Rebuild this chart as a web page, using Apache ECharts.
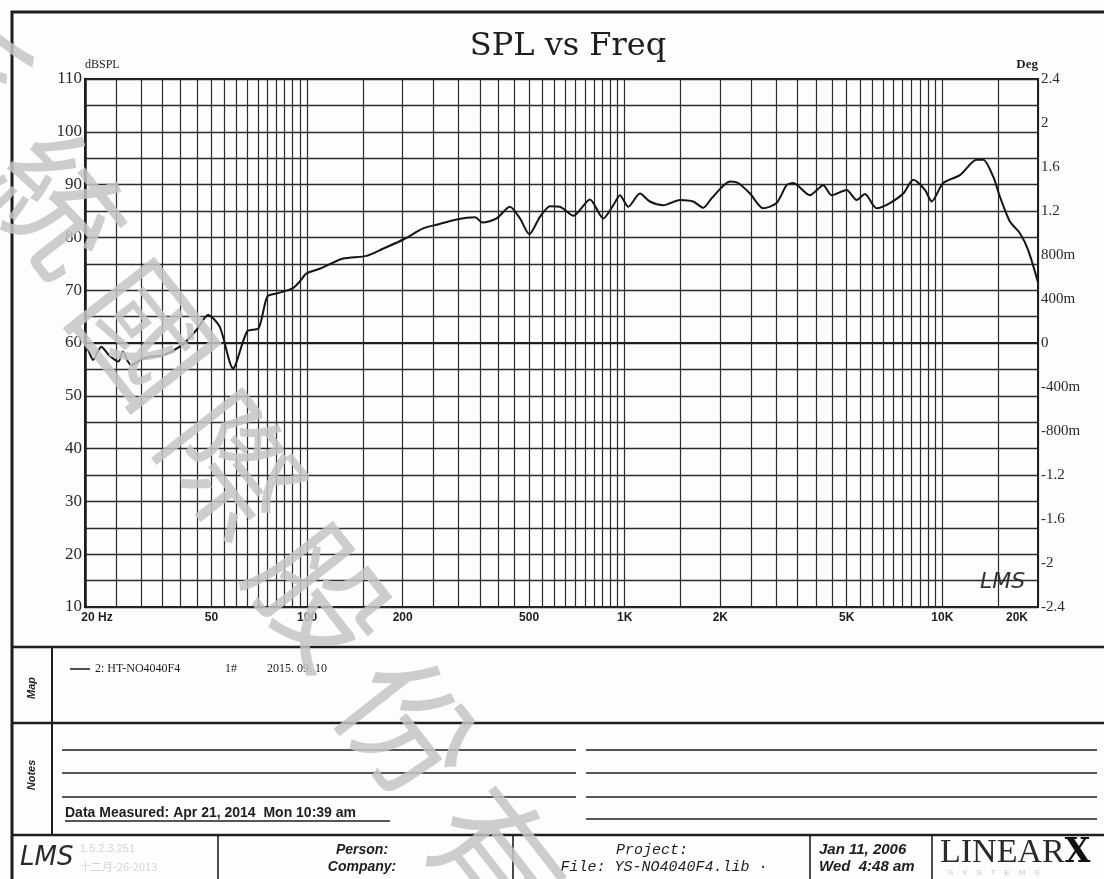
<!DOCTYPE html>
<html>
<head>
<meta charset="utf-8">
<title>SPL vs Freq</title>
<script src="https://cdn.jsdelivr.net/npm/echarts@6/dist/echarts.min.js"></script>
<style>
  html, body { margin: 0; padding: 0; background: #fff; }
  #main { width: 1104px; height: 879px; }
</style>
</head>
<body>
<div id="main"></div>
<script>
// frequency (Hz) and level (dB SPL)
var freq = [20, 20.3, 21.2, 22.5, 23.8, 25.5, 26.3, 27.3, 28, 29.9,
  32, 35.3, 40.4, 44.9, 48.8, 53.1, 58.5, 64.8, 70.4, 75,
  80.6, 90.3, 95, 99.7, 110, 130, 154, 174, 201, 232,
  256, 296, 338, 357, 395, 435, 468, 501, 541, 582,
  625, 689, 777, 856, 921, 966, 1026, 1117, 1200, 1322,
  1493, 1643, 1767, 1878, 2144, 2276, 2480, 2729, 3008, 3234,
  3392, 3828, 4217, 4480, 4996, 5370, 5704, 6210, 6838, 7530,
  8096, 8812, 9252, 10060, 11356, 12818, 13446, 14456, 15176, 16312,
  17540, 18624, 20000];
var spl = [58.2, 58.9, 56.8, 59.3, 57.7, 56.5, 58.4, 56.5, 55.8, 56.8,
  57.4, 57.7, 59.6, 62.5, 65.3, 63.1, 55.2, 62.2, 62.8, 68.8,
  69.4, 70.4, 71.7, 73.2, 74.1, 76.0, 76.5, 77.9, 79.6, 81.7,
  82.4, 83.4, 83.8, 82.8, 83.6, 85.8, 83.6, 80.6, 83.9, 85.9,
  85.8, 84.1, 87.2, 83.6, 86.1, 88.0, 85.8, 88.3, 86.8, 86.1,
  87.1, 86.8, 85.6, 87.4, 90.6, 90.3, 88.3, 85.5, 86.5, 89.9,
  90.3, 88.0, 89.9, 88.0, 89.0, 87.1, 88.2, 85.5, 86.5, 88.3,
  90.9, 89.0, 86.8, 90.3, 91.8, 94.7, 94.7, 91.5, 87.7, 83.0,
  80.8, 77.6, 71.5];

// vertical grid lines of the chart paper
var gridFreqs = [20, 25, 30, 35, 40, 45, 50, 55, 60, 65, 70, 75, 80, 85, 90, 95, 100,
  150, 200, 250, 300, 350, 400, 450, 500, 550, 600, 650, 700, 750, 800, 850, 900, 950, 1000,
  1500, 2000, 2500, 3000, 3500, 4000, 4500, 5000, 5500, 6000, 6500, 7000, 7500, 8000, 8500,
  9000, 9500, 10000, 15000, 20000];
var labelFreqs = [20, 50, 100, 200, 500, 1000, 2000, 5000, 10000, 20000];
var freqLabels = ['20 Hz', '50', '100', '200', '500', '1K', '2K', '5K', '10K', '20K'];
var degLabels = ['-2.4', '-2', '-1.6', '-1.2', '-800m', '-400m', '0', '400m', '800m', '1.2', '1.6', '2', '2.4'];

var seriesName = '2: HT-NO4040F4';
var sampleNo = '1#';
var measDate = '2015. 09. 10';

var ink = '#1e1e1e';
var data = freq.map(function (f, i) { return [f, spl[i]]; });

var chart = echarts.init(document.getElementById('main'));

function txt(x, y, text, font, extra) {
  var st = { text: text, font: font, fill: ink, align: 'left', verticalAlign: 'middle' };
  for (var k in (extra || {})) st[k] = extra[k];
  return { type: 'text', x: x, y: y, silent: true, style: st };
}
function ln(x1, y1, x2, y2, w) {
  return { type: 'line', silent: true, shape: { x1: x1, y1: y1, x2: x2, y2: y2 },
    style: { stroke: ink, lineWidth: w || 2 } };
}

var graphics = [
  { type: 'rect', silent: true, shape: { x: 12, y: 12, width: 1120, height: 900 },
    style: { fill: 'none', stroke: ink, lineWidth: 3 } },
  ln(12, 647, 1104, 647, 2.5),
  ln(12, 723, 1104, 723, 2.5),
  ln(12, 835, 1104, 835, 2.5),
  ln(52, 647, 52, 835, 2),
  // notes lines
  ln(62, 750, 576, 750, 1.6), ln(586, 750, 1097, 750, 1.6),
  ln(62, 773, 576, 773, 1.6), ln(586, 773, 1097, 773, 1.6),
  ln(62, 797, 576, 797, 1.6), ln(586, 797, 1097, 797, 1.6),
  ln(586, 819, 1097, 819, 1.6),
  ln(65, 821, 390, 821, 1.4),
  // title block dividers
  ln(218, 835, 218, 879, 1.6),
  ln(513, 835, 513, 879, 1.6),
  ln(810, 835, 810, 879, 1.6),
  ln(932, 835, 932, 879, 1.6),
  { type: 'text', x: 32, y: 688, rotation: Math.PI / 2, silent: true,
    style: { text: 'Map', font: 'italic bold 11px "Liberation Sans"', fill: ink, align: 'center', verticalAlign: 'middle' } },
  { type: 'text', x: 32, y: 775, rotation: Math.PI / 2, silent: true,
    style: { text: 'Notes', font: 'italic bold 11px "Liberation Sans"', fill: ink, align: 'center', verticalAlign: 'middle' } },
  txt(65, 813, 'Data Measured: Apr 21, 2014  Mon 10:39 am', 'bold 14px "Liberation Sans"'),
  txt(20, 858, 'LMS', 'italic 26px "DejaVu Sans"', { fill: '#2a2a2a' }),
  txt(80, 849, '1.5.2.3.251', '11px "Liberation Sans"', { fill: '#d4d4d4' }),
  txt(80, 867, '十二月-26-2013', '11px "Noto Sans CJK SC"', { fill: '#d4d4d4' }),
  txt(362, 850, 'Person:', 'italic 600 14px "Liberation Sans"', { align: 'center' }),
  txt(362, 867, 'Company:', 'italic 600 14px "Liberation Sans"', { align: 'center' }),
  txt(652, 850, 'Project:', 'italic 15px "Liberation Mono"', { align: 'center' }),
  txt(664, 867, 'File: YS-NO4040F4.lib ·', 'italic 15px "Liberation Mono"', { align: 'center' }),
  txt(819, 850, 'Jan 11, 2006', 'italic bold 15px "Liberation Sans"'),
  txt(819, 867, 'Wed  4:48 am', 'italic bold 15px "Liberation Sans"'),
  { type: 'text', x: 940, y: 853, silent: true,
    style: { text: '{a|LINEAR}{b|X}', align: 'left', verticalAlign: 'middle', fill: ink,
      rich: { a: { font: '34px "Liberation Serif"', fill: '#2a2a2a' },
              b: { font: 'bold 33px "DejaVu Serif"', fill: '#111' } } } },
  txt(948, 873, 'S    Y    S    T    E    M    S', '8px "Liberation Sans"', { fill: '#c8c8c8' }),
  // handwritten logo inside plot
  txt(980, 582, 'LMS', 'italic 22px "DejaVu Sans"', { fill: '#333' })
];

// scanned watermark, one glyph at a time along the diagonal
var wmChars = ['系', '統', '國', '際', '股', '份', '有', '限'];
wmChars.forEach(function (c, i) {
  graphics.push({
    type: 'text', x: -31 + i * 88, y: 72 + i * 131, rotation: -52 * Math.PI / 180,
    silent: true, z: 100,
    style: { text: c, font: '132px "Noto Sans CJK TC"', fill: '#c4c4c4', opacity: 0.85,
      align: 'center', verticalAlign: 'middle' }
  });
});

var option = {
  backgroundColor: '#fdfdfc',
  animation: false,
  title: {
    text: 'SPL vs Freq', left: 563, top: 26, textAlign: 'center',
    textStyle: { fontFamily: 'DejaVu Serif', fontSize: 32, fontWeight: 'normal', color: ink }
  },
  legend: {
    left: 65, top: 658, icon: 'rect', itemWidth: 20, itemHeight: 1.5, itemGap: 0,
    data: [seriesName],
    formatter: function (name) {
      return '{a|' + name + '}{b|' + sampleNo + '}' + measDate;
    },
    textStyle: {
      fontFamily: 'Liberation Serif', fontSize: 12, color: ink,
      rich: { a: { width: 130 }, b: { width: 42 } }
    }
  },
  grid: { left: 85, right: 66, top: 79, bottom: 272, show: true, borderColor: ink, borderWidth: 2 },
  xAxis: {
    type: 'log', logBase: 10, min: 20, max: 20000,
    axisLine: { show: true, lineStyle: { color: ink, width: 2 } },
    axisTick: { show: false, customValues: gridFreqs },
    axisLabel: {
      customValues: labelFreqs, margin: 5,
      fontFamily: 'Liberation Sans', fontWeight: 'bold', fontSize: 12, color: ink,
      formatter: function (v) {
        for (var i = 0; i < labelFreqs.length; i++) {
          if (Math.abs(v - labelFreqs[i]) < labelFreqs[i] * 1e-6) {
            if (i === 0) return '{lo|' + freqLabels[i] + '}';
            if (i === labelFreqs.length - 1) return '{hi|' + freqLabels[i] + '}';
            return freqLabels[i];
          }
        }
        return '';
      },
      rich: {
        lo: { padding: [0, 0, 0, 24], fontFamily: 'Liberation Sans', fontWeight: 'bold', fontSize: 12 },
        hi: { padding: [0, 42, 0, 0], fontFamily: 'Liberation Sans', fontWeight: 'bold', fontSize: 12 }
      }
    },
    splitLine: { show: true, lineStyle: { color: '#2b2b2b', width: 1.2 } },
    minorTick: { show: false }, minorSplitLine: { show: false }
  },
  yAxis: [
    {
      type: 'value', position: 'left', min: 10, max: 110, interval: 5,
      name: 'dBSPL', nameLocation: 'end', nameGap: 6,
      nameTextStyle: { fontFamily: 'Liberation Serif', fontSize: 12, color: ink, align: 'left' },
      axisLine: { show: true, lineStyle: { color: ink, width: 2.5 } },
      axisTick: { show: false },
      axisLabel: {
        margin: 3, fontFamily: 'Liberation Serif', fontSize: 17, color: '#2a2a2a',
        formatter: function (v) { return v % 10 === 0 ? String(v) : ''; }
      },
      splitLine: { show: true, lineStyle: { color: '#2b2b2b', width: 1.3 } }
    },
    {
      type: 'value', position: 'right', min: -2.4, max: 2.4, interval: 0.4,
      name: 'Deg', nameLocation: 'end', nameGap: 6,
      nameTextStyle: { fontFamily: 'Liberation Serif', fontSize: 13, fontWeight: 'bold', color: ink, align: 'right' },
      axisLine: { show: true, lineStyle: { color: ink, width: 2 } },
      axisTick: { show: false },
      axisLabel: {
        margin: 3, fontFamily: 'Liberation Serif', fontSize: 15, color: '#2a2a2a',
        formatter: function (v) { return degLabels[Math.round((v + 2.4) / 0.4)]; }
      },
      splitLine: { show: false }
    }
  ],
  series: [{
    name: seriesName, type: 'line', data: data, yAxisIndex: 0,
    showSymbol: false, smooth: 0.25,
    lineStyle: { color: '#151515', width: 2 },
    itemStyle: { color: '#151515' }
  }],
  graphic: graphics
};

chart.setOption(option);
</script>
</body>
</html>
